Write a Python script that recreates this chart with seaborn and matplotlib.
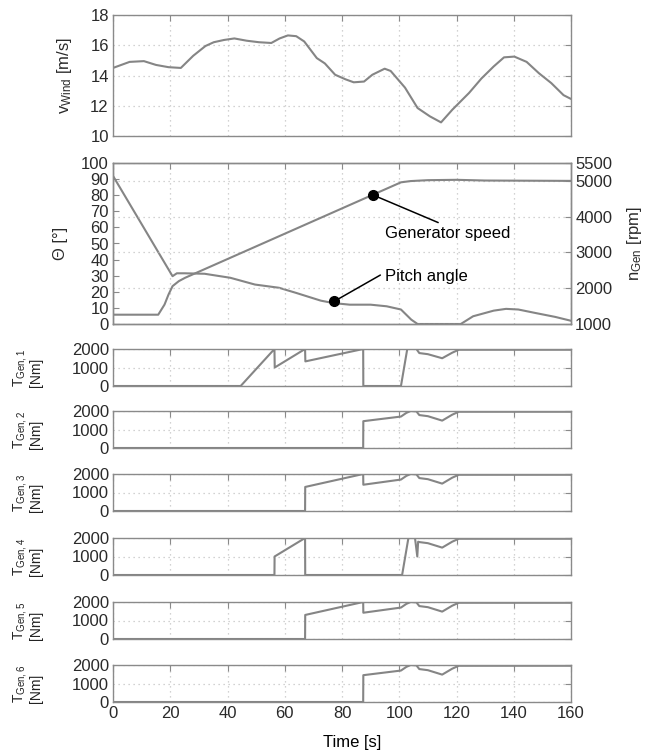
import matplotlib
matplotlib.use("Agg")
import matplotlib.pyplot as plt
import numpy as np
import pandas as pd
import seaborn as sns

# ---------------- data ----------------
t_wind = [0, 5.8, 10.8, 15, 19.4, 23.7, 28, 32.3, 35.2, 38.8, 42.4, 46.7, 51, 55.3, 58.2,
          61.1, 64, 66.8, 71.2, 74, 77.6, 81.2, 84.1, 87.7, 90.6, 94.9, 97, 102, 106.4,
          110.7, 114.6, 118.6, 124.4, 128.7, 133, 136.6, 140.2, 144.5, 148.8, 153.1, 157.4, 160]
v_wind = [14.5, 14.9, 14.95, 14.7, 14.55, 14.5, 15.3, 15.95, 16.2, 16.35, 16.45, 16.3, 16.2,
          16.15, 16.45, 16.65, 16.6, 16.25, 15.15, 14.8, 14.05, 13.75, 13.55, 13.6, 14.05,
          14.45, 14.3, 13.2, 11.85, 11.3, 10.9, 11.75, 12.85, 13.8, 14.6, 15.2, 15.25, 14.9,
          14.15, 13.5, 12.7, 12.45]

t_pitch = [0, 20.8, 22.3, 25, 32, 41, 49.6, 58, 64, 72.6, 77, 82.7, 90, 95.6, 100.6,
           104.2, 106.4, 121.5, 125.8, 133, 137.3, 141.6, 147.4, 154.5, 160]
pitch = [92, 29.7, 31.5, 31.5, 31.2, 28.7, 24.5, 22.5, 19.3, 14.5, 13, 12, 12, 11, 9,
         2.7, 0, 0, 4.8, 8.3, 9.4, 9, 6.9, 4.4, 2]

t_gen = [0, 15.8, 18, 19.4, 20.8, 23, 25.2, 100.6, 104, 110, 120, 130, 160]
n_gen = [1260, 1260, 1543, 1824, 2058, 2198, 2292, 4960, 4995, 5020, 5030, 5010, 5000]

t_T1 = [0, 44.6, 56.4, 56.5, 67.1, 67.2, 87.4, 87.45, 100.6, 102.8, 106, 107, 110, 115, 118.5, 120.8, 160]
T1 = [0, 0, 2000, 1000, 2000, 1330, 2000, 0, 0, 2000, 2000, 1780, 1720, 1500, 1800, 1960, 1960]

t_T2 = [0, 87.4, 87.45, 100.6, 102.5, 104, 106, 107, 110, 115, 118.5, 120.8, 160]
T2 = [0, 0, 1450, 1700, 1900, 2000, 1980, 1780, 1720, 1480, 1800, 1960, 1960]

t_T3 = [0, 67.1, 67.15, 87.4, 87.45, 100.6, 102.5, 104, 106, 107, 110, 115, 118.5, 120.8, 160]
T3 = [0, 0, 1300, 2000, 1420, 1700, 1900, 2000, 1980, 1780, 1720, 1480, 1800, 1960, 1960]

t_T4 = [0, 56.4, 56.45, 67.1, 67.15, 101, 103.2, 105.5, 106.3, 106.6, 107, 110, 115, 118.5, 120.8, 160]
T4 = [0, 0, 1000, 2000, 0, 0, 2000, 2000, 1000, 1800, 1780, 1720, 1480, 1800, 1960, 1960]

t_T5 = [0, 67.1, 67.15, 87.4, 87.45, 100.6, 102.5, 104, 106, 107, 110, 115, 118.5, 120.8, 160]
T5 = [0, 0, 1300, 2000, 1420, 1700, 1900, 2000, 1980, 1780, 1720, 1480, 1800, 1960, 1960]

t_T6 = [0, 87.4, 87.45, 100.6, 102.5, 104, 106, 107, 110, 115, 118.5, 120.8, 160]
T6 = [0, 0, 1450, 1700, 1900, 2000, 1980, 1780, 1720, 1480, 1800, 1960, 1960]

torque_series = [(t_T1, T1), (t_T2, T2), (t_T3, T3), (t_T4, T4), (t_T5, T5), (t_T6, T6)]
torque_labels = ["1", "2", "3", "4", "5", "6"]

x_ticks = [0, 20, 40, 60, 80, 100, 120, 140, 160]

# ---------------- style ----------------
sns.set_theme(style="white")
plt.rcParams["font.family"] = ["Liberation Sans", "DejaVu Sans"]
plt.rcParams["mathtext.fontset"] = "custom"
plt.rcParams["mathtext.rm"] = "Liberation Sans"
plt.rcParams["mathtext.it"] = "Liberation Sans"

LINE = "#858585"
SPINE = "#8a8a8a"
TXT = "#2a2a2a"
GRID = "#c4c4c4"

W, H = 645, 750
fig = plt.figure(figsize=(W / 100, H / 100), dpi=100)
LEFT, RIGHT = 113, 571


def rect(top, bottom):
    return [LEFT / W, 1 - bottom / H, (RIGHT - LEFT) / W, (bottom - top) / H]


def style_ax(ax, right=True):
    for s in ax.spines.values():
        s.set_color(SPINE)
        s.set_linewidth(1.0)
    ax.tick_params(direction="in", length=4, width=0.8, color=SPINE, labelcolor=TXT,
                   labelsize=12, top=True, right=right, pad=3)
    ax.set_xlim(0, 160)
    ax.set_xticks(x_ticks)
    ax.grid(True, linestyle=(0, (1, 3)), color=GRID, linewidth=0.9)


# ---- wind ----
ax_w = fig.add_axes(rect(15, 136))
sns.lineplot(x=t_wind, y=v_wind, ax=ax_w, color=LINE, lw=1.5, estimator=None, sort=False)
style_ax(ax_w)
ax_w.set_ylim(10, 18)
ax_w.set_yticks([10, 12, 14, 16, 18])
ax_w.set_xticklabels([])
ax_w.set_ylabel(r"$\mathrm{v}_{\mathrm{Wind}}$ [m/s]", fontsize=12, color=TXT)
ax_w.yaxis.set_label_coords(-0.085, 0.5)

# ---- pitch / generator speed ----
ax_m = fig.add_axes(rect(163, 324))
sns.lineplot(x=t_pitch, y=pitch, ax=ax_m, color=LINE, lw=1.5, estimator=None, sort=False)
style_ax(ax_m, right=False)
ax_m.grid(False)
ax_m.xaxis.grid(True, linestyle=(0, (1, 3)), color=GRID, linewidth=0.9)
ax_m.set_ylim(0, 100)
ax_m.set_yticks(range(0, 101, 10))
ax_m.set_xticklabels([])
ax_m.set_ylabel("Θ [°]", fontsize=12, color=TXT)
ax_m.yaxis.set_label_coords(-0.098, 0.5)

ax2 = ax_m.twinx()
sns.lineplot(x=t_gen, y=n_gen, ax=ax2, color=LINE, lw=1.5, estimator=None, sort=False)
ax2.set_ylim(1000, 5500)
ax2.set_yticks([1000, 2000, 3000, 4000, 5000, 5500])
ax2.set_xlim(0, 160)
for s in ax2.spines.values():
    s.set_color(SPINE)
    s.set_linewidth(1.0)
ax2.tick_params(axis="y", direction="in", length=4, width=0.8, color=SPINE,
                labelcolor=TXT, labelsize=12, pad=3)
ax2.yaxis.grid(True, linestyle=(0, (1, 3)), color=GRID, linewidth=0.9)
ax2.set_ylabel(r"$\mathrm{n}_{\mathrm{Gen}}$ [rpm]", fontsize=12, color=TXT)
ax2.yaxis.set_label_coords(1.118, 0.5)

# annotations (in pitch-axis coordinates)
tr = ax_m.transData
ax2.plot([91, 113.6], [80, 63], color="black", lw=1.1, transform=tr, zorder=5)
ax2.plot([91], [80], "o", color="black", ms=7, transform=tr, zorder=6)
ax2.text(94.9, 56.3, "Generator speed", transform=tr, fontsize=12, color="black",
         ha="left", va="center")
ax2.plot([77.3, 93.4], [14.1, 30.4], color="black", lw=1.1, transform=tr, zorder=5)
ax2.plot([77.3], [14.1], "o", color="black", ms=7, transform=tr, zorder=6)
ax2.text(94.9, 29.7, "Pitch angle", transform=tr, fontsize=12, color="black",
         ha="left", va="center")

# ---- torques ----
tops = [349, 411, 474, 538, 602, 665]
tax = []
for k, ((tt, TT), lab) in enumerate(zip(torque_series, torque_labels)):
    ax = fig.add_axes(rect(tops[k], tops[k] + 37))
    sns.lineplot(x=tt, y=TT, ax=ax, color=LINE, lw=1.5, estimator=None, sort=False)
    style_ax(ax)
    ax.set_ylim(0, 2000)
    ax.set_yticks([0, 1000, 2000])
    ax.set_ylabel(r"$\mathrm{T}_{\mathrm{Gen,%s}}$" % lab + "\n[Nm]", fontsize=10,
                  color="#222222", multialignment="left", linespacing=0.95)
    ax.yaxis.set_label_coords(-0.153, 0.5)
    if k < 5:
        ax.set_xticklabels([])
    else:
        ax.set_xticklabels([str(v) for v in x_ticks])
        ax.set_xlabel("Time [s]", fontsize=12, color="black")
        ax.xaxis.set_label_coords(0.522, -0.88)
    tax.append(ax)

fig.savefig("out.png", dpi=100)
